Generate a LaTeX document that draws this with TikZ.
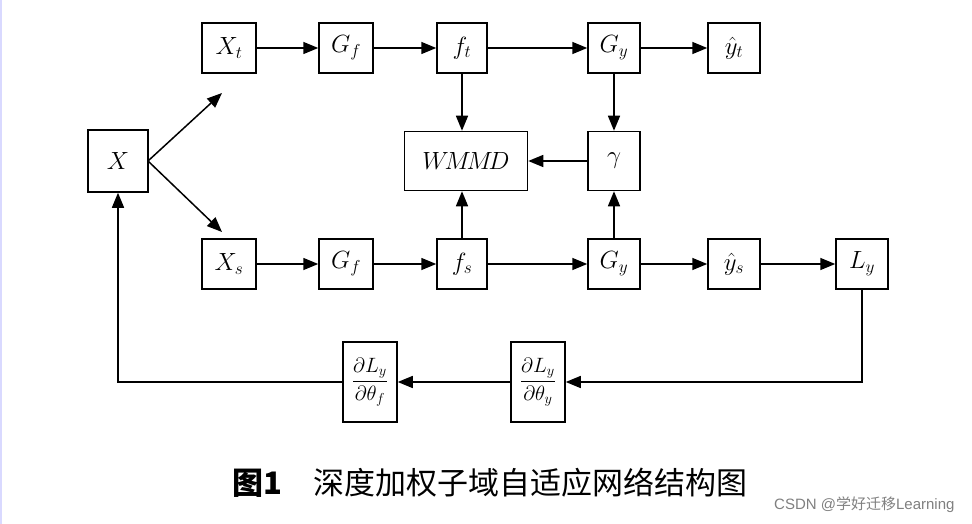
\documentclass[tikz,border=0pt]{standalone}
\usepackage{fontspec}
\newfontfamily\cjk{Noto Sans CJK SC}
\newfontfamily\wmfont{Liberation Sans}
\usetikzlibrary{arrows.meta}
\begin{document}
\begin{tikzpicture}[x=1pt,y=-1pt,
  bx/.style={draw,line width=1.5pt,minimum width=54pt,minimum height=50pt,inner sep=1pt,font=\fontsize{27}{29}\selectfont},
  ar/.style={-{Triangle[length=15pt,width=12pt]},line width=1.5pt}]
\useasboundingbox (0,0) rectangle (972,524);
\fill[white] (0,0) rectangle (972,524);
\draw[blue!15,line width=2pt] (1,0)--(1,524);
\node[bx,minimum width=60pt,minimum height=62pt] (X) at (118,161) {$X$};
\node[bx] (Xt) at (229,48) {$X_t$};
\node[bx] (Gft) at (346,48) {$G_f$};
\node[bx,minimum width=50pt] (ft) at (462,48) {$f_t$};
\node[bx,minimum width=52pt] (Gyt) at (614,48) {$G_y$};
\node[bx,minimum width=52pt] (yt) at (734,48) {$\hat y_t$};
\node[bx] (Xs) at (229,264) {$X_s$};
\node[bx] (Gfs) at (346,264) {$G_f$};
\node[bx,minimum width=50pt] (fs) at (462,264) {$f_s$};
\node[bx,minimum width=52pt] (Gys) at (614,264) {$G_y$};
\node[bx,minimum width=52pt] (ys) at (734,264) {$\hat y_s$};
\node[bx,minimum width=52pt] (Ly) at (862,264) {$L_y$};
\node[bx,minimum width=123pt,minimum height=59pt] (W) at (466,161) {$W\!M\!M\!D$};
\node[bx,minimum width=52pt,minimum height=59pt] (g) at (614,161) {$\gamma$};
\node[bx,minimum height=80pt,font=\fontsize{20}{22}\selectfont] (dl) at (370,382) {$\displaystyle\frac{\partial L_y}{\partial\theta_f}$};
\node[bx,minimum height=80pt,font=\fontsize{20}{22}\selectfont] (dr) at (538,382) {$\displaystyle\frac{\partial L_y}{\partial\theta_y}$};
\coordinate (o) at (148,161);
\draw[ar] (o) -- (222,93);
\draw[ar] (o) -- (222,232);
\draw[ar] (Xt)--(Gft); \draw[ar] (Gft)--(ft); \draw[ar] (ft)--(Gyt); \draw[ar] (Gyt)--(yt);
\draw[ar] (Xs)--(Gfs); \draw[ar] (Gfs)--(fs); \draw[ar] (fs)--(Gys); \draw[ar] (Gys)--(ys); \draw[ar] (ys)--(Ly);
\draw[ar] (ft.south) -- (ft.south |- W.north);
\draw[ar] (fs.north) -- (fs.north |- W.south);
\draw[ar] (Gyt)--(g); \draw[ar] (Gys)--(g); \draw[ar] (g)--(W);
\draw[ar] (Ly.south) |- (dr.east);
\draw[ar] (dr)--(dl);
\draw[ar] (dl.west) -| (X.south);
\node[font=\cjk\fontsize{31}{33}\selectfont] (cap) at (490,483) {\textbf{图1}\hspace{1em}深度加权子域自适应网络结构图};
\node[font=\wmfont\fontsize{15}{16}\selectfont,text=gray,anchor=east] (wm) at (958,505) {CSDN @{\cjk 学好迁移}Learning};
\end{tikzpicture}
\end{document}
